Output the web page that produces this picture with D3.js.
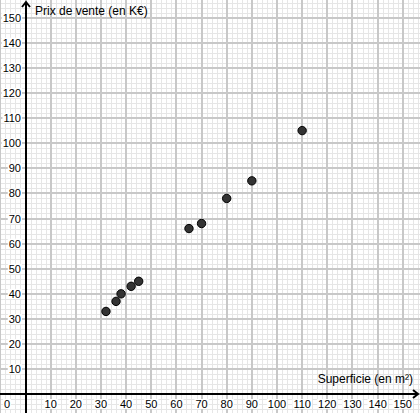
<!DOCTYPE html>
<html><head><meta charset="utf-8">
<script src="https://cdn.jsdelivr.net/npm/d3@7/dist/d3.min.js"></script>
<style>body{margin:0;background:#fff}svg{display:block}text{font-family:"Liberation Sans",Arial,sans-serif;fill:#000}</style>
</head><body>
<script>
const surfaces = [32, 36, 38, 42, 45, 65, 70, 80, 90, 110];
const prices   = [33, 37, 40, 43, 45, 66, 68, 78, 85, 105];
const xTicks = [10,20,30,40,50,60,70,80,90,100,110,120,130,140,150];
const yTicks = [10,20,30,40,50,60,70,80,90,100,110,120,130,140,150];
const xTitle = "Superficie (en m²)";
const yTitle = "Prix de vente (en K€)";

const W = 420, H = 413;
const svg = d3.select("body").append("svg").attr("width", W).attr("height", H);
const x = d3.scaleLinear().domain([0,150]).range([25.5, 402.75]);
const y = d3.scaleLinear().domain([0,150]).range([394.3, 17.6]);
const px = v => Math.round(x(v));
const py = v => Math.round(y(v));

// minor grid
const minorX = d3.range(-10, 168, 2).filter(v => v % 10 !== 0);
const minorY = d3.range(-10, 160, 2).filter(v => v % 10 !== 0);
const g = svg.append("g");
g.selectAll(".mx").data(minorX).join("line")
  .attr("x1", d => px(d)+0.5).attr("x2", d => px(d)+0.5).attr("y1", 0).attr("y2", H)
  .attr("stroke", "#e6e6e6").attr("stroke-width", 1);
g.selectAll(".my").data(minorY).join("line")
  .attr("y1", d => py(d)+0.5).attr("y2", d => py(d)+0.5).attr("x1", 0).attr("x2", W)
  .attr("stroke", "#e6e6e6").attr("stroke-width", 1);
// major grid
const majorX = d3.range(-10, 170, 10);
const majorY = d3.range(-10, 170, 10);
g.selectAll(".Mx").data(majorX).join("line")
  .attr("x1", d => px(d)).attr("x2", d => px(d)).attr("y1", 0).attr("y2", H)
  .attr("stroke", "#c8c8c8").attr("stroke-width", 2);
g.selectAll(".My").data(majorY).join("line")
  .attr("y1", d => py(d)).attr("y2", d => py(d)).attr("x1", 0).attr("x2", W)
  .attr("stroke", "#c8c8c8").attr("stroke-width", 2);

// axes
const ox = px(0), oy = py(0);
svg.append("line").attr("x1", ox).attr("x2", ox).attr("y1", H).attr("y2", 2)
  .attr("stroke", "#000").attr("stroke-width", 2);
svg.append("line").attr("x1", 0).attr("x2", 418).attr("y1", oy).attr("y2", oy)
  .attr("stroke", "#000").attr("stroke-width", 2);
svg.append("path").attr("d", `M${ox-4},${7}L${ox},${2}L${ox+4},${7}`)
  .attr("fill", "none").attr("stroke", "#000").attr("stroke-width", 2);
svg.append("path").attr("d", `M${413},${oy-4}L${418},${oy}L${413},${oy+4}`)
  .attr("fill", "none").attr("stroke", "#000").attr("stroke-width", 2);

// tick labels
function label(txt, tx, ty, anchor) {
  const t = svg.append("text").attr("x", tx).attr("y", ty).attr("text-anchor", anchor)
    .attr("font-size", 11).text(txt);
  const b = t.node().getBBox();
  svg.insert("rect", () => t.node()).attr("x", b.x-1).attr("y", b.y+1).attr("width", b.width+2).attr("height", b.height-2)
    .attr("fill", "#fff");
}
xTicks.forEach(v => label(String(v), x(v), 408, "middle"));
label("0", 7, 408, "middle");
yTicks.forEach(v => label(String(v), 21, y(v)+4, "end"));

// titles
svg.append("text").attr("x", 35).attr("y", 15).attr("font-size", 12).text(yTitle);
svg.append("text").attr("x", 413).attr("y", 383).attr("text-anchor", "end").attr("font-size", 12).text(xTitle);

// points
svg.selectAll("circle").data(surfaces.map((s,i) => [s, prices[i]])).join("circle")
  .attr("cx", d => x(d[0])).attr("cy", d => y(d[1])).attr("r", 4.2)
  .attr("fill", "#333").attr("stroke", "#000").attr("stroke-width", 1);
</script>
</body></html>
